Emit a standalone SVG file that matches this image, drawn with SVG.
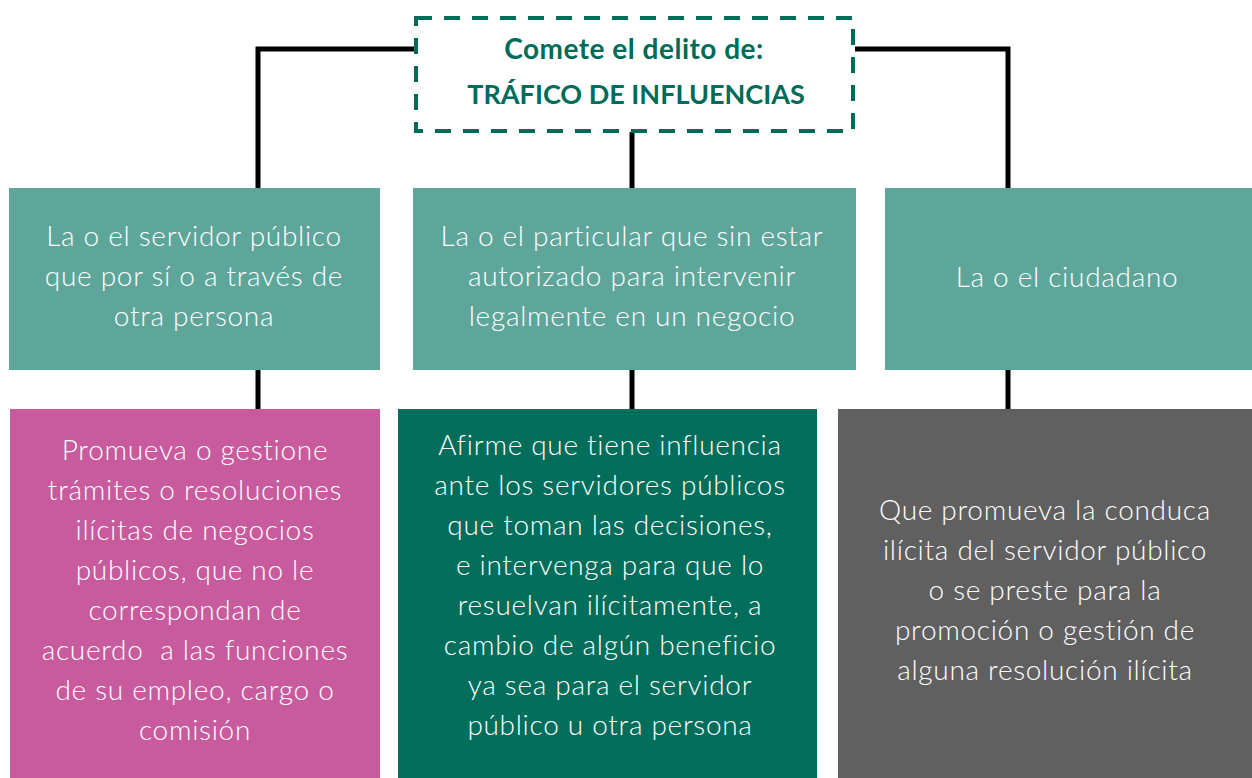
<svg xmlns="http://www.w3.org/2000/svg" width="1252" height="778" viewBox="0 0 1252 778">
<style>
.conn{stroke:#000;stroke-width:5;fill:none}
.t{font-family:Lato,"Open Sans","Liberation Sans",sans-serif;font-weight:300;font-size:28px;letter-spacing:0.7px;fill:#fff;text-anchor:middle}
.h{font-family:Lato,"Open Sans","Liberation Sans",sans-serif;font-weight:700;font-size:27px;fill:#006b58;text-anchor:middle}
</style>
<rect width="1252" height="778" fill="#fff"/>
<g id="connectors">
<polyline class="conn" points="414,49 258,49 258,188"/>
<polyline class="conn" points="855,49 1008,49 1008,188"/>
<line class="conn" x1="632" y1="132" x2="632" y2="188"/>
<line class="conn" x1="258" y1="370" x2="258" y2="409"/>
<line class="conn" x1="632" y1="370" x2="632" y2="409"/>
<line class="conn" x1="1008" y1="370" x2="1008" y2="409"/>
</g>
<g id="title">
<rect x="416" y="18" width="437" height="113" fill="#fff" stroke="#006b58" stroke-width="4" stroke-dasharray="16,12"/>
<text class="h" x="634" y="59" style="font-size:28px;letter-spacing:0.5px">Comete el delito de:</text>
<text class="h" x="636" y="104">TRÁFICO DE INFLUENCIAS</text>
</g>
<g id="servidor">
<rect x="9" y="188" width="371" height="182" fill="#5ea59a"/>
<text class="t" x="194" y="246">La o el servidor público</text>
<text class="t" x="194" y="286">que por sí o a través de</text>
<text class="t" x="194" y="326">otra persona</text>
</g>
<g id="particular">
<rect x="413" y="188" width="443" height="182" fill="#5ea59a"/>
<text class="t" x="632" y="246">La o el particular que sin estar</text>
<text class="t" x="632" y="286">autorizado para intervenir</text>
<text class="t" x="632" y="326">legalmente en un negocio</text>
</g>
<g id="ciudadano">
<rect x="885" y="188" width="367" height="182" fill="#5ea59a"/>
<text class="t" x="1067" y="287">La o el ciudadano</text>
</g>
<g id="promueva">
<rect x="10" y="409" width="370" height="369" fill="#c75b9d"/>
<text class="t" x="195" y="460">Promueva o gestione</text>
<text class="t" x="195" y="500">trámites o resoluciones</text>
<text class="t" x="195" y="540">ilícitas de negocios</text>
<text class="t" x="195" y="580">públicos, que no le</text>
<text class="t" x="195" y="620">correspondan de</text>
<text class="t" x="195" y="660" xml:space="preserve">acuerdo  a las funciones</text>
<text class="t" x="195" y="700">de su empleo, cargo o</text>
<text class="t" x="195" y="740">comisión</text>
</g>
<g id="afirme">
<rect x="398" y="409" width="419" height="369" fill="#006e5b"/>
<text class="t" x="610" y="455">Afirme que tiene influencia</text>
<text class="t" x="610" y="495">ante los servidores públicos</text>
<text class="t" x="610" y="535">que toman las decisiones,</text>
<text class="t" x="610" y="575">e intervenga para que lo</text>
<text class="t" x="610" y="615">resuelvan ilícitamente, a</text>
<text class="t" x="610" y="655">cambio de algún beneficio</text>
<text class="t" x="610" y="695">ya sea para el servidor</text>
<text class="t" x="610" y="735">público u otra persona</text>
</g>
<g id="conduca">
<rect x="838" y="409" width="414" height="369" fill="#606060"/>
<text class="t" x="1045" y="520">Que promueva la conduca</text>
<text class="t" x="1045" y="560">ilícita del servidor público</text>
<text class="t" x="1045" y="600">o se preste para la</text>
<text class="t" x="1045" y="640">promoción o gestión de</text>
<text class="t" x="1045" y="680">alguna resolución ilícita</text>
</g>
</svg>
